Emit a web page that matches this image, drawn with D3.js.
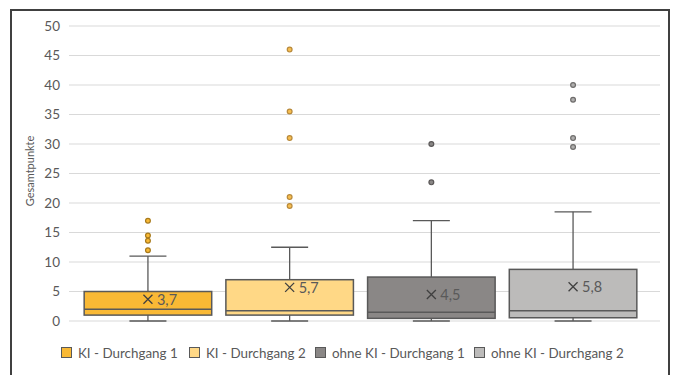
<!DOCTYPE html>
<html><head><meta charset="utf-8">
<script src="https://cdn.jsdelivr.net/npm/d3@7"></script>
<style>
html,body{margin:0;padding:0;background:#fff;}
svg{display:block;font-family:Lato,"Open Sans",sans-serif;}
</style></head>
<body><svg id="c" width="673" height="375"></svg>
<script>
const categories = ["KI - Durchgang 1","KI - Durchgang 2","ohne KI - Durchgang 1","ohne KI - Durchgang 2"];
const whiskerLow = [0, 0, 0, 0];
const q1 = [1.0, 1.0, 0.45, 0.55];
const median = [2.0, 1.75, 1.5, 1.75];
const q3 = [5.0, 7.0, 7.45, 8.75];
const whiskerHigh = [11.0, 12.5, 17.0, 18.5];
const means = [3.7, 5.7, 4.5, 5.8];
const meanLabels = ["3,7", "5,7", "4,5", "5,8"];
const outliers = [
  [17, 14.5, 13.6, 12],
  [46, 35.5, 31, 21, 19.5],
  [30, 23.5],
  [40, 37.5, 31, 29.5]
];
const yTicks = [0,5,10,15,20,25,30,35,40,45,50];
const fills = ["#F9B935","#FFD886","#8A8786","#BCBBBA"];
const outlierStroke = ["#A87A1C","#B8893A","#5A5757","#6E6C6B"];
const outlierFill = ["#F9B935","#F7BE4F","#8A8786","#B0AFAE"];

const svg = d3.select("#c");
const txt = "#595959";
// frame
svg.append("rect").attr("x",11).attr("y",10).attr("width",658).attr("height",380)
  .attr("fill","#fff").attr("stroke","#404040").attr("stroke-width",2);

const y = d3.scaleLinear().domain([0,50]).range([321,26]);
const x = d3.scaleBand().domain(categories).range([70,651]).paddingInner(0.1).paddingOuter(0.1);
const gl = 69, gr = 660;

// gridlines
svg.append("g").selectAll("line").data(yTicks).join("line")
  .attr("x1",gl).attr("x2",gr).attr("y1",d=>y(d)).attr("y2",d=>y(d))
  .attr("stroke","#D9D9D9").attr("stroke-width",1.2);

// y axis labels
const yAxis = d3.axisLeft(y).tickValues(yTicks).tickSize(0).tickPadding(0).tickFormat(d=>d);
const ga = svg.append("g").attr("transform","translate(60,0)").call(yAxis);
ga.select(".domain").remove();
ga.selectAll("text").attr("fill",txt).attr("font-size","13.5px").attr("font-family","Lato,'Open Sans',sans-serif");

// y title
svg.append("text").attr("transform","translate(31,171) rotate(-90)")
  .attr("text-anchor","middle").attr("dominant-baseline","middle")
  .attr("fill",txt).attr("font-size","11px").text("Gesamtpunkte");

const bw = x.bandwidth();
const stroke = "#595959";
categories.forEach((c,i)=>{
  const cx = x(c) + bw/2;
  const g = svg.append("g");
  // whiskers
  g.append("line").attr("x1",cx).attr("x2",cx).attr("y1",y(q3[i])).attr("y2",y(whiskerHigh[i])).attr("stroke",stroke).attr("stroke-width",1.3);
  g.append("line").attr("x1",cx).attr("x2",cx).attr("y1",y(q1[i])).attr("y2",y(whiskerLow[i])).attr("stroke",stroke).attr("stroke-width",1.3);
  const cw = 37;
  g.append("line").attr("x1",cx-cw/2).attr("x2",cx+cw/2).attr("y1",y(whiskerHigh[i])).attr("y2",y(whiskerHigh[i])).attr("stroke",stroke).attr("stroke-width",1.3);
  g.append("line").attr("x1",cx-cw/2).attr("x2",cx+cw/2).attr("y1",y(whiskerLow[i])).attr("y2",y(whiskerLow[i])).attr("stroke",stroke).attr("stroke-width",1.3);
  // box
  g.append("rect").attr("x",x(c)).attr("width",bw).attr("y",y(q3[i])).attr("height",y(q1[i])-y(q3[i]))
    .attr("fill",fills[i]).attr("stroke",stroke).attr("stroke-width",1.5);
  g.append("line").attr("x1",x(c)).attr("x2",x(c)+bw).attr("y1",y(median[i])).attr("y2",y(median[i])).attr("stroke",stroke).attr("stroke-width",1.5);
  // mean marker
  const my = y(means[i]), s = 4.5;
  g.append("path").attr("d",`M${cx-s},${my-s}L${cx+s},${my+s}M${cx-s},${my+s}L${cx+s},${my-s}`)
    .attr("stroke","#404040").attr("stroke-width",1.3).attr("fill","none");
  g.append("text").attr("x",cx+9).attr("y",my).attr("dominant-baseline","central")
    .attr("fill",txt).attr("font-size","14.5px").text(meanLabels[i]);
  // outliers
  g.selectAll("circle").data(outliers[i]).join("circle")
    .attr("cx",cx).attr("cy",d=>y(d)).attr("r",2.4)
    .attr("fill",outlierFill[i]).attr("stroke",outlierStroke[i]).attr("stroke-width",1.2);
});

// legend
const legX = [61, 189, 315, 474];
const lg = svg.append("g");
categories.forEach((c,i)=>{
  lg.append("rect").attr("x",legX[i]+0.5).attr("y",347.5).attr("width",10).attr("height",10)
    .attr("fill",fills[i]).attr("stroke","#595959").attr("stroke-width",1);
  lg.append("text").attr("x",legX[i]+17).attr("y",353).attr("dominant-baseline","central")
    .attr("fill",txt).attr("font-size","13.4px").text(c);
});
</script></body></html>
